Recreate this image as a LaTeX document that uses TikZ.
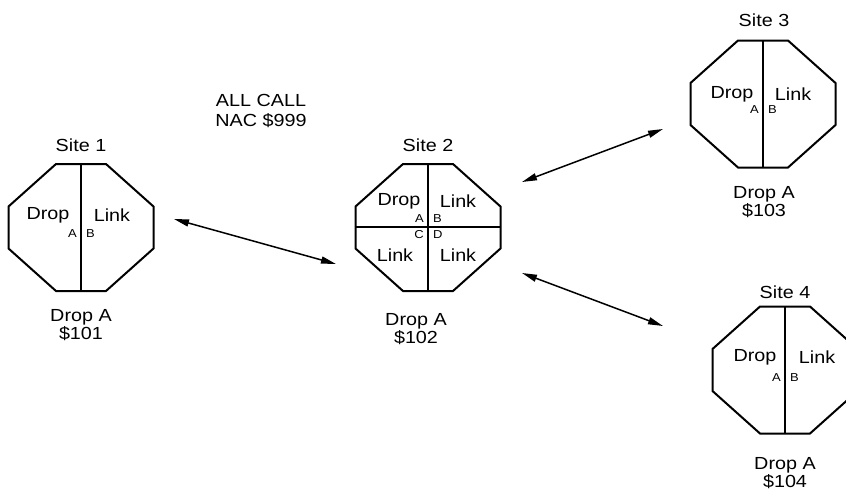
\documentclass[tikz,border=0pt]{standalone}
\usepackage{fontspec}
\setmainfont{Liberation Sans}[FakeStretch=1.13]
\usetikzlibrary{arrows.meta}
\tikzset{
  octline/.style={line width=2pt, line join=miter},
  big/.style={font=\fontsize{17.5}{18}\selectfont, inner sep=0pt, align=center},
  small/.style={font=\fontsize{11.5}{12}\selectfont, inner sep=0pt},
  link/.style={line width=1.5pt, {Triangle[length=15pt,width=7pt]}-{Triangle[length=15pt,width=7pt]}},
  octo/.pic={
    \draw[octline] (-25,-63.5) -- (25,-63.5) -- (72.5,-21) -- (72.5,21) -- (25,63.5) -- (-25,63.5) -- (-72.5,21) -- (-72.5,-21) -- cycle;
    \draw[octline] (0,-63.5) -- (0,63.5);
  }
}
\begin{document}
\begin{tikzpicture}[x=1pt,y=-1pt]
\useasboundingbox (0,0) rectangle (846,491);
\clip (0,0) rectangle (846,491);

% Site 1
\pic (s1) at (81,227.5) {octo};
\node[big] (s1t) at (81,145) {Site 1};
\node[big] (s1d) at (48,215) {Drop};
\node[big] (s1l) at (112,215) {Link};
\node[small,anchor=east] (s1a) at (77,234) {A};
\node[small,anchor=west] (s1b) at (86,234) {B};
\node[big] (s1n) at (81,325.5) {Drop A\\\$101};

% Site 2
\pic (s2) at (428,227.5) {octo};
\draw[octline] (356,227) -- (500,227);
\node[big] (s2t) at (428,145) {Site 2};
\node[big] (s2d) at (399,201) {Drop};
\node[big] (s2l) at (458,201) {Link};
\node[big] (s2c) at (395,255) {Link};
\node[big] (s2e) at (458,255) {Link};
\node[small,anchor=east] (s2a) at (424,219) {A};
\node[small,anchor=west] (s2b) at (433,219) {B};
\node[small,anchor=east] (s2cc) at (424,235) {C};
\node[small,anchor=west] (s2dd) at (433,235) {D};
\node[big] (s2n) at (416,329.5) {Drop A\\\$102};

% Site 3
\pic (s3) at (763,104) {octo};
\node[big] (s3t) at (764,20) {Site 3};
\node[big] (s3d) at (732,94) {Drop};
\node[big] (s3l) at (793,94) {Link};
\node[small,anchor=east] (s3a) at (759,110) {A};
\node[small,anchor=west] (s3b) at (768,110) {B};
\node[big] (s3n) at (764,202.5) {Drop A\\\$103};

% Site 4
\pic (s4) at (785,370) {octo};
\node[big] (s4t) at (785,292) {Site 4};
\node[big] (s4d) at (755,357) {Drop};
\node[big] (s4l) at (817,357) {Link};
\node[small,anchor=east] (s4a) at (781,378) {A};
\node[small,anchor=west] (s4b) at (790,378) {B};
\node[big] (s4n) at (785,473.5) {Drop A\\\$104};

% All call
\node[big] (allcall) at (261,111) {ALL CALL\\[2pt]NAC \$999};

% connectors
\coordinate (a1s) at (174,219);
\coordinate (a1e) at (336,264);
\coordinate (a2s) at (522,182);
\coordinate (a2e) at (663,129);
\coordinate (a3s) at (522,273);
\coordinate (a3e) at (663,326);
\draw[link] (a1s) -- (a1e);
\draw[link] (a2s) -- (a2e);
\draw[link] (a3s) -- (a3e);
\end{tikzpicture}
\end{document}
